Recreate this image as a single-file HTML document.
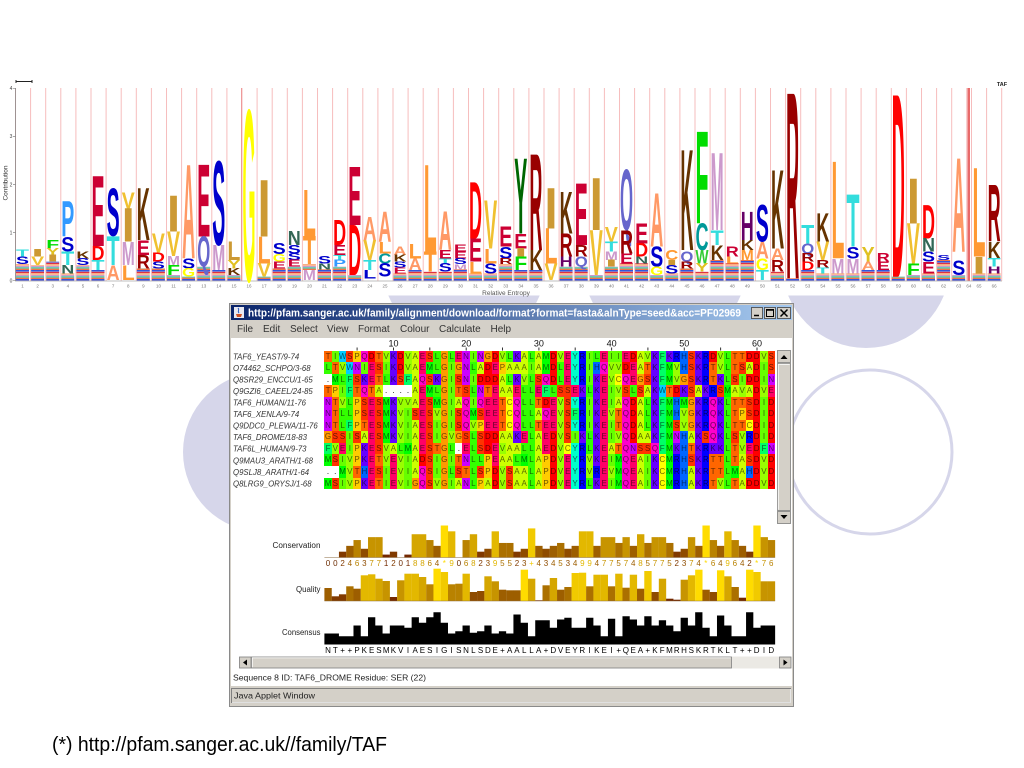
<!DOCTYPE html>
<html><head><meta charset="utf-8">
<style>
html,body{margin:0;padding:0;background:#fff;}
body{width:1024px;height:768px;position:relative;overflow:hidden;font-family:"Liberation Sans",sans-serif;}
svg.main{position:absolute;left:0;top:0;}
.lg text{font-family:"Liberation Sans",sans-serif;font-weight:bold;font-size:10px;}
.cA{fill:#ff9966}.cL{fill:#ff9933}.cI{fill:#cc9933}.cV{fill:#f0c030}.cM{fill:#cc99cc}.cF{fill:#00dd00}.cW{fill:#33cc33}
.cY{fill:#006600}.cYg{fill:#e0c020}.cG{fill:#ffff00}.cC{fill:#009999}.cT{fill:#33dddd}.cS{fill:#0000cc}.cN{fill:#336655}
.cQ{fill:#6666cc}.cP{fill:#3399ff}.cD{fill:#ff0000}.cE{fill:#cc0033}.cR{fill:#990000}.cK{fill:#663300}.cH{fill:#660066}
.q0{fill:#6b2a00;color:#6b2a00}.q1{fill:#732800;color:#732800}.q2{fill:#813a00;color:#813a00}.q3{fill:#8f4c00;color:#8f4c00}.q4{fill:#9d5e00;color:#9d5e00}
.q5{fill:#ab7000;color:#ab7000}.q6{fill:#b98200;color:#b98200}.q7{fill:#c79400;color:#c79400}.q8{fill:#d5a600;color:#d5a600}
.q9{fill:#e3b800;color:#e3b800}.q10{fill:#f1ca00;color:#f1ca00}.q11{fill:#ffdc00;color:#ffdc00}
.aln{position:absolute;left:324.4px;top:350.5px;}
.aln div{display:flex;height:11.55px;}
.aln i{flex:0 0 7.27px;width:7.27px;height:11.55px;line-height:12px;text-align:center;font-size:8px;font-style:normal;color:rgba(0,0,0,.6);overflow:hidden;}
.aln .A{background:#ccff00}.aln .R{background:#0000ff}.aln .N{background:#cc00ff}.aln .D{background:#ff0000}.aln .C{background:#ffff00}
.aln .Q{background:#ff00cc}.aln .E{background:#ff0066}.aln .G{background:#ff9900}.aln .H{background:#0066ff}.aln .I{background:#66ff00}
.aln .L{background:#33ff00}.aln .K{background:#6600ff}.aln .M{background:#00ff00}.aln .F{background:#00ff66}.aln .P{background:#ffcc00}
.aln .S{background:#ff3300}.aln .T{background:#ff6600}.aln .W{background:#00ccff}.aln .Y{background:#00ffcc}.aln .V{background:#99ff00}
.aln .g{background:#fff;color:#000}
.rowx{position:absolute;left:324.4px;display:flex;height:10px;}
.rowx i{flex:0 0 7.27px;width:7.27px;text-align:center;font-size:8px;line-height:10px;font-style:normal;}
</style></head>
<body>
<svg class="main" width="1024" height="768" viewBox="0 0 1024 768" xmlns="http://www.w3.org/2000/svg">
<defs>
<pattern id="sm" width="13" height="9" patternUnits="userSpaceOnUse">
<rect width="13" height="1.6" fill="#3355dd"/><rect y="1.8" width="13" height="1.4" fill="#dd3344"/><rect y="3.4" width="13" height="1.3" fill="#ffaa66"/><rect y="4.9" width="13" height="1.2" fill="#cc99cc"/><rect y="6.3" width="13" height="1.2" fill="#33bb99"/><rect y="7.7" width="13" height="1.2" fill="#ee6633"/>
</pattern>
<pattern id="vl" x="15" y="0" width="15.1" height="10" patternUnits="userSpaceOnUse"><rect width="1" height="10" fill="#f6bcbc"/></pattern>
<linearGradient id="tb" x1="0" x2="1" y1="0" y2="0"><stop offset="0" stop-color="#0a246a"/><stop offset="1" stop-color="#a6caf0"/></linearGradient>
</defs>

<!-- decorative circles -->
<circle cx="263" cy="452" r="80" fill="#d6d6ea"/>
<circle cx="464" cy="264" r="82" fill="#d6d6ea"/>
<circle cx="665" cy="264" r="82" fill="#d6d6ea"/>
<circle cx="866" cy="264" r="84" fill="#d6d6ea"/>
<circle cx="870" cy="452" r="82" fill="none" stroke="#d6d6ea" stroke-width="3"/>
<rect x="0" y="0" width="1024" height="295.5" fill="#fff"/>

<!-- logo -->
<rect x="14.5" y="88" width="953" height="193" fill="url(#vl)"/>
<rect x="241" y="88" width="1" height="193" fill="#ee9a9a"/>
<rect x="967.5" y="88" width="2.5" height="193" fill="#e86a6a"/>
<rect x="971" y="88" width="1" height="193" fill="#f6bcbc"/>
<rect x="986.1" y="88" width="1" height="193" fill="#f6bcbc"/>
<rect x="1001.2" y="88" width="1" height="193" fill="#f6bcbc"/>
<line x1="15.5" y1="88" x2="15.5" y2="281" stroke="#888" stroke-width="0.8"/>
<line x1="15" y1="281" x2="1002" y2="281" stroke="#aaa" stroke-width="0.8"/>
<path d="M13 88.3h3M13 136.5h3M13 184.6h3M13 232.6h3M13 280.7h3" stroke="#888" stroke-width="0.7"/>
<g font-family="Liberation Sans,sans-serif" font-size="5" fill="#444" text-anchor="middle">
<text x="11" y="90">4</text><text x="11" y="138.2">3</text><text x="11" y="186.3">2</text><text x="11" y="234.3">1</text><text x="11" y="282.4">0</text>
</g>
<text transform="translate(7.5 183) rotate(-90)" font-family="Liberation Sans,sans-serif" font-size="6.5" fill="#333" text-anchor="middle">Contribution</text>
<path d="M16 80v3M16 81.5h16M32 80v3" stroke="#222" stroke-width="1"/>
<text x="1002" y="86" font-family="Liberation Sans,sans-serif" font-size="5.5" font-weight="bold" fill="#222" text-anchor="middle">TAF</text>
<text x="506" y="295" font-family="Liberation Sans,sans-serif" font-size="6.5" fill="#555" text-anchor="middle">Relative Entropy</text>
<text font-family="Liberation Sans,sans-serif" font-size="4.5" fill="#777" text-anchor="middle" y="287.5"><tspan x="22.55">1</tspan><tspan x="37.65">2</tspan><tspan x="52.75">3</tspan><tspan x="67.85">4</tspan><tspan x="82.95">5</tspan><tspan x="98.05">6</tspan><tspan x="113.15">7</tspan><tspan x="128.25">8</tspan><tspan x="143.35">9</tspan><tspan x="158.45">10</tspan><tspan x="173.55">11</tspan><tspan x="188.65">12</tspan><tspan x="203.75">13</tspan><tspan x="218.85">14</tspan><tspan x="233.95">15</tspan><tspan x="249.05">16</tspan><tspan x="264.15">17</tspan><tspan x="279.25">18</tspan><tspan x="294.35">19</tspan><tspan x="309.45">20</tspan><tspan x="324.55">21</tspan><tspan x="339.65">22</tspan><tspan x="354.75">23</tspan><tspan x="369.85">24</tspan><tspan x="384.95">25</tspan><tspan x="400.05">26</tspan><tspan x="415.15">27</tspan><tspan x="430.25">28</tspan><tspan x="445.35">29</tspan><tspan x="460.45">30</tspan><tspan x="475.55">31</tspan><tspan x="490.65">32</tspan><tspan x="505.75">33</tspan><tspan x="520.85">34</tspan><tspan x="535.95">35</tspan><tspan x="551.05">36</tspan><tspan x="566.15">37</tspan><tspan x="581.25">38</tspan><tspan x="596.35">39</tspan><tspan x="611.45">40</tspan><tspan x="626.55">41</tspan><tspan x="641.65">42</tspan><tspan x="656.75">43</tspan><tspan x="671.85">44</tspan><tspan x="686.95">45</tspan><tspan x="702.05">46</tspan><tspan x="717.15">47</tspan><tspan x="732.25">48</tspan><tspan x="747.35">49</tspan><tspan x="762.45">50</tspan><tspan x="777.55">51</tspan><tspan x="792.65">52</tspan><tspan x="807.75">53</tspan><tspan x="822.85">54</tspan><tspan x="837.95">55</tspan><tspan x="853.05">56</tspan><tspan x="868.15">57</tspan><tspan x="883.25">58</tspan><tspan x="898.35">59</tspan><tspan x="913.45">60</tspan><tspan x="928.55">61</tspan><tspan x="943.65">62</tspan><tspan x="958.75">63</tspan><tspan x="968.9">64</tspan><tspan x="979.05">65</tspan><tspan x="994.15">66</tspan></text>

<g class="lg">
<!-- small stacks -->
<rect x="16" y="264" width="13" height="16.7" fill="url(#sm)"/>
<rect x="31.1" y="265" width="13" height="15.7" fill="url(#sm)"/>
<rect x="46.2" y="261.7" width="13" height="19" fill="url(#sm)"/>
<rect x="61.3" y="273.3" width="13" height="7.4" fill="url(#sm)"/>
<rect x="76.4" y="265" width="13" height="15.7" fill="url(#sm)"/>
<rect x="91.5" y="270" width="13" height="10.7" fill="url(#sm)"/>
<rect x="136.8" y="268.3" width="13" height="12.4" fill="url(#sm)"/>
<rect x="151.9" y="268.3" width="13" height="12.4" fill="url(#sm)"/>
<rect x="167" y="275" width="13" height="5.7" fill="url(#sm)"/>
<rect x="182.1" y="276.7" width="13" height="4" fill="url(#sm)"/>
<rect x="197.2" y="266.7" width="13" height="14" fill="url(#sm)"/>
<rect x="212.3" y="270" width="13" height="10.7" fill="url(#sm)"/>
<rect x="227.4" y="275" width="13" height="5.7" fill="url(#sm)"/>
<rect x="257.6" y="276.7" width="13" height="4" fill="url(#sm)"/>
<rect x="272.7" y="268.3" width="13" height="12.4" fill="url(#sm)"/>
<rect x="287.8" y="266.7" width="13" height="14" fill="url(#sm)"/>
<rect x="302.9" y="264" width="13" height="6" fill="url(#sm)"/>
<rect x="318" y="269.3" width="13" height="11.4" fill="url(#sm)"/>
<rect x="333.1" y="266.7" width="13" height="14" fill="url(#sm)"/>
<rect x="348.2" y="275" width="13" height="5.7" fill="url(#sm)"/>
<rect x="393.5" y="273.3" width="13" height="7.4" fill="url(#sm)"/>
<rect x="408.6" y="270" width="13" height="10.7" fill="url(#sm)"/>
<rect x="423.7" y="271.7" width="13" height="9" fill="url(#sm)"/>
<rect x="438.8" y="271.7" width="13" height="9" fill="url(#sm)"/>
<rect x="453.9" y="269.3" width="13" height="11.4" fill="url(#sm)"/>
<rect x="469" y="273.3" width="13" height="7.4" fill="url(#sm)"/>
<rect x="484.1" y="273.3" width="13" height="7.4" fill="url(#sm)"/>
<rect x="499.2" y="264" width="13" height="16.7" fill="url(#sm)"/>
<rect x="514.3" y="270" width="13" height="10.7" fill="url(#sm)"/>
<rect x="529.4" y="270" width="13" height="10.7" fill="url(#sm)"/>
<rect x="559.6" y="266.7" width="13" height="14" fill="url(#sm)"/>
<rect x="574.7" y="266.7" width="13" height="14" fill="url(#sm)"/>
<rect x="589.8" y="275" width="13" height="5.7" fill="url(#sm)"/>
<rect x="604.9" y="266.7" width="13" height="14" fill="url(#sm)"/>
<rect x="620" y="263.3" width="13" height="17.4" fill="url(#sm)"/>
<rect x="635.1" y="263.3" width="13" height="17.4" fill="url(#sm)"/>
<rect x="650.2" y="275" width="13" height="5.7" fill="url(#sm)"/>
<rect x="665.3" y="273.3" width="13" height="7.4" fill="url(#sm)"/>
<rect x="680.4" y="268.3" width="13" height="12.4" fill="url(#sm)"/>
<rect x="695.5" y="271.7" width="13" height="9" fill="url(#sm)"/>
<rect x="710.6" y="260" width="13" height="20.7" fill="url(#sm)"/>
<rect x="725.7" y="263.3" width="13" height="17.4" fill="url(#sm)"/>
<rect x="740.8" y="260" width="13" height="20.7" fill="url(#sm)"/>
<rect x="771" y="271.7" width="13" height="9" fill="url(#sm)"/>
<rect x="786.1" y="278.3" width="13" height="2.4" fill="url(#sm)"/>
<rect x="801.2" y="270" width="13" height="10.7" fill="url(#sm)"/>
<rect x="816.3" y="273.3" width="13" height="7.4" fill="url(#sm)"/>
<rect x="831.4" y="273.3" width="13" height="7.4" fill="url(#sm)"/>
<rect x="846.5" y="273.3" width="13" height="7.4" fill="url(#sm)"/>
<rect x="861.6" y="270" width="13" height="10.7" fill="url(#sm)"/>
<rect x="876.7" y="270" width="13" height="10.7" fill="url(#sm)"/>
<rect x="891.8" y="276.7" width="13" height="4" fill="url(#sm)"/>
<rect x="906.9" y="275" width="13" height="5.7" fill="url(#sm)"/>
<rect x="922" y="273.3" width="13" height="7.4" fill="url(#sm)"/>
<rect x="937.1" y="260" width="13" height="20.7" fill="url(#sm)"/>
<rect x="952.2" y="275" width="13" height="5.7" fill="url(#sm)"/>
<rect x="972.5" y="273.3" width="13" height="7.4" fill="url(#sm)"/>
<rect x="987.6" y="273.3" width="13" height="7.4" fill="url(#sm)"/>

<!-- letters -->
<text class="cT" transform="translate(16 256.7)scale(1 .97)" textLength="13" lengthAdjust="spacingAndGlyphs">T</text>
<text class="cS" transform="translate(16 264)scale(1 1.06)" textLength="13" lengthAdjust="spacingAndGlyphs">S</text>
<text class="cI" transform="translate(31.1 256.7)scale(1 1.06)" textLength="13" lengthAdjust="spacingAndGlyphs">I</text>
<text class="cV" transform="translate(31.1 265)scale(1 1.21)" textLength="13" lengthAdjust="spacingAndGlyphs">V</text>
<text class="cF" transform="translate(46.2 248.3)scale(1 1.21)" textLength="13" lengthAdjust="spacingAndGlyphs">F</text>
<text class="cYg" transform="translate(46.2 255)scale(1 .97)" textLength="13" lengthAdjust="spacingAndGlyphs">Y</text>
<text class="cI" transform="translate(46.2 261.7)scale(1 .97)" textLength="13" lengthAdjust="spacingAndGlyphs">I</text>
<text class="cP" transform="translate(61.3 236.7)scale(1 5.07)" textLength="13" lengthAdjust="spacingAndGlyphs">P</text>
<text class="cS" transform="translate(61.3 251.7)scale(1 2.17)" textLength="13" lengthAdjust="spacingAndGlyphs">S</text>
<text class="cT" transform="translate(61.3 265)scale(1 1.93)" textLength="13" lengthAdjust="spacingAndGlyphs">T</text>
<text class="cN" transform="translate(61.3 273.3)scale(1 1.21)" textLength="13" lengthAdjust="spacingAndGlyphs">N</text>
<text class="cK" transform="translate(76.4 258.3)scale(1 .97)" textLength="13" lengthAdjust="spacingAndGlyphs">K</text>
<text class="cS" transform="translate(76.4 265)scale(1 .97)" textLength="13" lengthAdjust="spacingAndGlyphs">S</text>
<text class="cE" transform="translate(91.5 246)scale(1 10.14)" textLength="13" lengthAdjust="spacingAndGlyphs">E</text>
<text class="cD" transform="translate(91.5 260)scale(1 2.03)" textLength="13" lengthAdjust="spacingAndGlyphs">D</text>
<text class="cT" transform="translate(91.5 270)scale(1 1.45)" textLength="13" lengthAdjust="spacingAndGlyphs">T</text>
<text class="cS" transform="translate(106.6 236)scale(1 6.91)" textLength="13" lengthAdjust="spacingAndGlyphs">S</text>
<text class="cT" transform="translate(106.6 265)scale(1 4.2)" textLength="13" lengthAdjust="spacingAndGlyphs">T</text>
<text class="cA" transform="translate(106.6 280)scale(1 2.17)" textLength="13" lengthAdjust="spacingAndGlyphs">A</text>
<text class="cV" transform="translate(121.7 208.3)scale(1 2.27)" textLength="13" lengthAdjust="spacingAndGlyphs">V</text>
<text class="cI" transform="translate(121.7 241.7)scale(1 4.83)" textLength="13" lengthAdjust="spacingAndGlyphs">I</text>
<text class="cM" transform="translate(121.7 265)scale(1 3.38)" textLength="13" lengthAdjust="spacingAndGlyphs">M</text>
<text class="cL" transform="translate(121.7 280)scale(1 2.17)" textLength="13" lengthAdjust="spacingAndGlyphs">L</text>
<text class="cK" transform="translate(136.8 240)scale(1 7.49)" textLength="13" lengthAdjust="spacingAndGlyphs">K</text>
<text class="cE" transform="translate(136.8 255)scale(1 2.17)" textLength="13" lengthAdjust="spacingAndGlyphs">E</text>
<text class="cR" transform="translate(136.8 268.3)scale(1 1.93)" textLength="13" lengthAdjust="spacingAndGlyphs">R</text>
<text class="cV" transform="translate(151.9 252.7)scale(1 2.8)" textLength="13" lengthAdjust="spacingAndGlyphs">V</text>
<text class="cD" transform="translate(151.9 261.7)scale(1 1.3)" textLength="13" lengthAdjust="spacingAndGlyphs">D</text>
<text class="cS" transform="translate(151.9 268.3)scale(1 .97)" textLength="13" lengthAdjust="spacingAndGlyphs">S</text>
<text class="cI" transform="translate(167 231.7)scale(1 5.17)" textLength="13" lengthAdjust="spacingAndGlyphs">I</text>
<text class="cV" transform="translate(167 256)scale(1 3.53)" textLength="13" lengthAdjust="spacingAndGlyphs">V</text>
<text class="cM" transform="translate(167 265)scale(1 1.3)" textLength="13" lengthAdjust="spacingAndGlyphs">M</text>
<text class="cF" transform="translate(167 275)scale(1 1.45)" textLength="13" lengthAdjust="spacingAndGlyphs">F</text>
<text class="cA" transform="translate(182.1 258.3)scale(1 13.53)" textLength="13" lengthAdjust="spacingAndGlyphs">A</text>
<text class="cS" transform="translate(182.1 268.3)scale(1 1.45)" textLength="13" lengthAdjust="spacingAndGlyphs">S</text>
<text class="cG" transform="translate(182.1 276.7)scale(1 1.21)" textLength="13" lengthAdjust="spacingAndGlyphs">G</text>
<text class="cE" transform="translate(197.2 236.7)scale(1 10.39)" textLength="13" lengthAdjust="spacingAndGlyphs">E</text>
<text class="cQ" transform="translate(197.2 266.7)scale(1 4.35)" textLength="13" lengthAdjust="spacingAndGlyphs">Q</text>
<text class="cS" transform="translate(212.3 245)scale(1 12.08)" textLength="13" lengthAdjust="spacingAndGlyphs">S</text>
<text class="cM" transform="translate(212.3 270)scale(1 3.62)" textLength="13" lengthAdjust="spacingAndGlyphs">M</text>
<text class="cI" transform="translate(227.4 260)scale(1 2.66)" textLength="13" lengthAdjust="spacingAndGlyphs">L</text>
<text class="cYg" transform="translate(227.4 268.3)scale(1 1.21)" textLength="13" lengthAdjust="spacingAndGlyphs">Y</text>
<text class="cK" transform="translate(227.4 275)scale(1 .97)" textLength="13" lengthAdjust="spacingAndGlyphs">K</text>
<text class="cG" transform="translate(242.5 280.7)scale(1 24.6)" textLength="13" lengthAdjust="spacingAndGlyphs">G</text>
<text class="cI" transform="translate(257.6 236.7)scale(1 8.12)" textLength="13" lengthAdjust="spacingAndGlyphs">I</text>
<text class="cL" transform="translate(257.6 263.3)scale(1 3.86)" textLength="13" lengthAdjust="spacingAndGlyphs">L</text>
<text class="cV" transform="translate(257.6 276.7)scale(1 1.93)" textLength="13" lengthAdjust="spacingAndGlyphs">V</text>
<text class="cS" transform="translate(272.7 254)scale(1 1.55)" textLength="13" lengthAdjust="spacingAndGlyphs">S</text>
<text class="cG" transform="translate(272.7 261.7)scale(1 1.11)" textLength="13" lengthAdjust="spacingAndGlyphs">G</text>
<text class="cE" transform="translate(272.7 268.3)scale(1 .97)" textLength="13" lengthAdjust="spacingAndGlyphs">E</text>
<text class="cN" transform="translate(287.8 245)scale(1 2.03)" textLength="13" lengthAdjust="spacingAndGlyphs">N</text>
<text class="cS" transform="translate(287.8 253.3)scale(1 1.21)" textLength="13" lengthAdjust="spacingAndGlyphs">S</text>
<text class="cS" transform="translate(287.8 260)scale(1 .97)" textLength="13" lengthAdjust="spacingAndGlyphs">S</text>
<text class="cE" transform="translate(287.8 266.7)scale(1 .97)" textLength="13" lengthAdjust="spacingAndGlyphs">E</text>
<text class="cL" transform="translate(302.9 236)scale(1 6.67)" textLength="13" lengthAdjust="spacingAndGlyphs">L</text>
<text class="cL" transform="translate(302.9 264)scale(1 4.06)" textLength="13" lengthAdjust="spacingAndGlyphs">T</text>
<text class="cM" transform="translate(302.9 280)scale(1 1.45)" textLength="13" lengthAdjust="spacingAndGlyphs">M</text>
<text class="cS" transform="translate(318 263.3)scale(1 1.06)" textLength="13" lengthAdjust="spacingAndGlyphs">S</text>
<text class="cN" transform="translate(318 269.3)scale(1 .87)" textLength="13" lengthAdjust="spacingAndGlyphs">N</text>
<text class="cD" transform="translate(333.1 245)scale(1 3.62)" textLength="13" lengthAdjust="spacingAndGlyphs">D</text>
<text class="cE" transform="translate(333.1 255)scale(1 1.45)" textLength="13" lengthAdjust="spacingAndGlyphs">E</text>
<text class="cT" transform="translate(333.1 260)scale(1 .72)" textLength="13" lengthAdjust="spacingAndGlyphs">T</text>
<text class="cP" transform="translate(333.1 266.7)scale(1 .97)" textLength="13" lengthAdjust="spacingAndGlyphs">P</text>
<text class="cE" transform="translate(348.2 225)scale(1 8.45)" textLength="13" lengthAdjust="spacingAndGlyphs">E</text>
<text class="cD" transform="translate(348.2 275)scale(1 7.25)" textLength="13" lengthAdjust="spacingAndGlyphs">D</text>
<text class="cA" transform="translate(363.3 240)scale(1 3.38)" textLength="13" lengthAdjust="spacingAndGlyphs">A</text>
<text class="cV" transform="translate(363.3 260)scale(1 2.9)" textLength="13" lengthAdjust="spacingAndGlyphs">V</text>
<text class="cT" transform="translate(363.3 270)scale(1 1.45)" textLength="13" lengthAdjust="spacingAndGlyphs">T</text>
<text class="cS" transform="translate(363.3 278.3)scale(1 1.21)" textLength="13" lengthAdjust="spacingAndGlyphs">L</text>
<text class="cA" transform="translate(378.4 241.7)scale(1 4.35)" textLength="13" lengthAdjust="spacingAndGlyphs">A</text>
<text class="cL" transform="translate(378.4 253.3)scale(1 1.69)" textLength="13" lengthAdjust="spacingAndGlyphs">L</text>
<text class="cC" transform="translate(378.4 263.3)scale(1 1.45)" textLength="13" lengthAdjust="spacingAndGlyphs">C</text>
<text class="cS" transform="translate(378.4 276.7)scale(1 1.93)" textLength="13" lengthAdjust="spacingAndGlyphs">S</text>
<text class="cA" transform="translate(393.5 255)scale(1 1.21)" textLength="13" lengthAdjust="spacingAndGlyphs">A</text>
<text class="cK" transform="translate(393.5 261.7)scale(1 .97)" textLength="13" lengthAdjust="spacingAndGlyphs">K</text>
<text class="cS" transform="translate(393.5 267.3)scale(1 .82)" textLength="13" lengthAdjust="spacingAndGlyphs">S</text>
<text class="cE" transform="translate(393.5 273.3)scale(1 .87)" textLength="13" lengthAdjust="spacingAndGlyphs">E</text>
<text class="cL" transform="translate(408.6 258.3)scale(1 2.17)" textLength="13" lengthAdjust="spacingAndGlyphs">L</text>
<text class="cA" transform="translate(408.6 270)scale(1 1.69)" textLength="13" lengthAdjust="spacingAndGlyphs">A</text>
<text class="cL" transform="translate(423.7 251.7)scale(1 12.56)" textLength="13" lengthAdjust="spacingAndGlyphs">L</text>
<text class="cL" transform="translate(423.7 271.7)scale(1 2.9)" textLength="13" lengthAdjust="spacingAndGlyphs">T</text>
<text class="cA" transform="translate(438.8 250)scale(1 5.56)" textLength="13" lengthAdjust="spacingAndGlyphs">A</text>
<text class="cE" transform="translate(438.8 258.3)scale(1 1.21)" textLength="13" lengthAdjust="spacingAndGlyphs">E</text>
<text class="cT" transform="translate(438.8 263.3)scale(1 .72)" textLength="13" lengthAdjust="spacingAndGlyphs">T</text>
<text class="cS" transform="translate(438.8 271.7)scale(1 1.21)" textLength="13" lengthAdjust="spacingAndGlyphs">S</text>
<text class="cE" transform="translate(453.9 251.7)scale(1 .97)" textLength="13" lengthAdjust="spacingAndGlyphs">E</text>
<text class="cE" transform="translate(453.9 258.3)scale(1 .97)" textLength="13" lengthAdjust="spacingAndGlyphs">E</text>
<text class="cS" transform="translate(453.9 264)scale(1 .82)" textLength="13" lengthAdjust="spacingAndGlyphs">S</text>
<text class="cM" transform="translate(453.9 269.3)scale(1 .77)" textLength="13" lengthAdjust="spacingAndGlyphs">M</text>
<text class="cD" transform="translate(469 238.3)scale(1 8.21)" textLength="13" lengthAdjust="spacingAndGlyphs">D</text>
<text class="cE" transform="translate(469 261.7)scale(1 3.38)" textLength="13" lengthAdjust="spacingAndGlyphs">E</text>
<text class="cL" transform="translate(469 273.3)scale(1 1.69)" textLength="13" lengthAdjust="spacingAndGlyphs">L</text>
<text class="cV" transform="translate(484.1 248.3)scale(1 7)" textLength="13" lengthAdjust="spacingAndGlyphs">V</text>
<text class="cL" transform="translate(484.1 263.3)scale(1 2.17)" textLength="13" lengthAdjust="spacingAndGlyphs">L</text>
<text class="cS" transform="translate(484.1 273.3)scale(1 1.45)" textLength="13" lengthAdjust="spacingAndGlyphs">S</text>
<text class="cE" transform="translate(499.2 246.7)scale(1 2.9)" textLength="13" lengthAdjust="spacingAndGlyphs">E</text>
<text class="cS" transform="translate(499.2 258.3)scale(1 1.69)" textLength="13" lengthAdjust="spacingAndGlyphs">S</text>
<text class="cR" transform="translate(499.2 264)scale(1 .82)" textLength="13" lengthAdjust="spacingAndGlyphs">R</text>
<text class="cY" transform="translate(514.3 233.3)scale(1 10.87)" textLength="13" lengthAdjust="spacingAndGlyphs">Y</text>
<text class="cE" transform="translate(514.3 248.3)scale(1 2.17)" textLength="13" lengthAdjust="spacingAndGlyphs">E</text>
<text class="cI" transform="translate(514.3 256.7)scale(1 1.21)" textLength="13" lengthAdjust="spacingAndGlyphs">I</text>
<text class="cF" transform="translate(514.3 270)scale(1 1.93)" textLength="13" lengthAdjust="spacingAndGlyphs">F</text>
<text class="cR" transform="translate(529.4 250)scale(1 13.87)" textLength="13" lengthAdjust="spacingAndGlyphs">R</text>
<text class="cK" transform="translate(529.4 270)scale(1 2.9)" textLength="13" lengthAdjust="spacingAndGlyphs">K</text>
<text class="cI" transform="translate(544.5 228.3)scale(1 5.8)" textLength="13" lengthAdjust="spacingAndGlyphs">I</text>
<text class="cL" transform="translate(544.5 263.3)scale(1 5.07)" textLength="13" lengthAdjust="spacingAndGlyphs">L</text>
<text class="cV" transform="translate(544.5 280)scale(1 2.42)" textLength="13" lengthAdjust="spacingAndGlyphs">V</text>
<text class="cK" transform="translate(559.6 233.3)scale(1 6.04)" textLength="13" lengthAdjust="spacingAndGlyphs">K</text>
<text class="cR" transform="translate(559.6 256.7)scale(1 3.38)" textLength="13" lengthAdjust="spacingAndGlyphs">R</text>
<text class="cH" transform="translate(559.6 266.7)scale(1 1.45)" textLength="13" lengthAdjust="spacingAndGlyphs">H</text>
<text class="cE" transform="translate(574.7 245)scale(1 8.94)" textLength="13" lengthAdjust="spacingAndGlyphs">E</text>
<text class="cR" transform="translate(574.7 256.7)scale(1 1.69)" textLength="13" lengthAdjust="spacingAndGlyphs">R</text>
<text class="cQ" transform="translate(574.7 266.7)scale(1 1.45)" textLength="13" lengthAdjust="spacingAndGlyphs">Q</text>
<text class="cI" transform="translate(589.8 230)scale(1 7.49)" textLength="13" lengthAdjust="spacingAndGlyphs">I</text>
<text class="cV" transform="translate(589.8 275)scale(1 6.52)" textLength="13" lengthAdjust="spacingAndGlyphs">V</text>
<text class="cV" transform="translate(604.9 241.7)scale(1 2.17)" textLength="13" lengthAdjust="spacingAndGlyphs">V</text>
<text class="cT" transform="translate(604.9 251.7)scale(1 1.45)" textLength="13" lengthAdjust="spacingAndGlyphs">T</text>
<text class="cM" transform="translate(604.9 260)scale(1 1.21)" textLength="13" lengthAdjust="spacingAndGlyphs">M</text>
<text class="cI" transform="translate(604.9 266.7)scale(1 .97)" textLength="13" lengthAdjust="spacingAndGlyphs">I</text>
<text class="cQ" transform="translate(620 230)scale(1 8.7)" textLength="13" lengthAdjust="spacingAndGlyphs">Q</text>
<text class="cR" transform="translate(620 253.3)scale(1 3.38)" textLength="13" lengthAdjust="spacingAndGlyphs">R</text>
<text class="cE" transform="translate(620 263.3)scale(1 1.45)" textLength="13" lengthAdjust="spacingAndGlyphs">E</text>
<text class="cE" transform="translate(635.1 243.3)scale(1 2.9)" textLength="13" lengthAdjust="spacingAndGlyphs">E</text>
<text class="cD" transform="translate(635.1 256.7)scale(1 1.93)" textLength="13" lengthAdjust="spacingAndGlyphs">D</text>
<text class="cN" transform="translate(635.1 263.3)scale(1 .97)" textLength="13" lengthAdjust="spacingAndGlyphs">N</text>
<text class="cA" transform="translate(650.2 246.7)scale(1 7.73)" textLength="13" lengthAdjust="spacingAndGlyphs">A</text>
<text class="cS" transform="translate(650.2 266.7)scale(1 2.9)" textLength="13" lengthAdjust="spacingAndGlyphs">S</text>
<text class="cG" transform="translate(650.2 275)scale(1 1.21)" textLength="13" lengthAdjust="spacingAndGlyphs">G</text>
<text class="cL" transform="translate(665.3 260)scale(1 1.45)" textLength="13" lengthAdjust="spacingAndGlyphs">C</text>
<text class="cI" transform="translate(665.3 265)scale(1 .72)" textLength="13" lengthAdjust="spacingAndGlyphs">I</text>
<text class="cS" transform="translate(665.3 273.3)scale(1 1.21)" textLength="13" lengthAdjust="spacingAndGlyphs">S</text>
<text class="cK" transform="translate(680.4 250)scale(1 14.49)" textLength="13" lengthAdjust="spacingAndGlyphs">K</text>
<text class="cQ" transform="translate(680.4 261.7)scale(1 1.45)" textLength="13" lengthAdjust="spacingAndGlyphs">Q</text>
<text class="cR" transform="translate(680.4 268.3)scale(1 .97)" textLength="13" lengthAdjust="spacingAndGlyphs">R</text>
<text class="cF" transform="translate(695.5 223.3)scale(1 13.29)" textLength="13" lengthAdjust="spacingAndGlyphs">F</text>
<text class="cC" transform="translate(695.5 250)scale(1 3.86)" textLength="13" lengthAdjust="spacingAndGlyphs">C</text>
<text class="cW" transform="translate(695.5 263.3)scale(1 1.93)" textLength="13" lengthAdjust="spacingAndGlyphs">W</text>
<text class="cYg" transform="translate(695.5 271.7)scale(1 1.21)" textLength="13" lengthAdjust="spacingAndGlyphs">Y</text>
<text class="cM" transform="translate(710.6 230)scale(1 11.11)" textLength="13" lengthAdjust="spacingAndGlyphs">M</text>
<text class="cT" transform="translate(710.6 245)scale(1 2.17)" textLength="13" lengthAdjust="spacingAndGlyphs">T</text>
<text class="cK" transform="translate(710.6 260)scale(1 2.17)" textLength="13" lengthAdjust="spacingAndGlyphs">K</text>
<text class="cE" transform="translate(725.7 256.7)scale(1 1.45)" textLength="13" lengthAdjust="spacingAndGlyphs">R</text>
<text class="cL" transform="translate(725.7 263.3)scale(1 .97)" textLength="13" lengthAdjust="spacingAndGlyphs">L</text>
<text class="cH" transform="translate(740.8 240)scale(1 4.11)" textLength="13" lengthAdjust="spacingAndGlyphs">H</text>
<text class="cK" transform="translate(740.8 250)scale(1 1.45)" textLength="13" lengthAdjust="spacingAndGlyphs">K</text>
<text class="cL" transform="translate(740.8 260)scale(1 1.45)" textLength="13" lengthAdjust="spacingAndGlyphs">M</text>
<text class="cS" transform="translate(755.9 241.7)scale(1 5.31)" textLength="13" lengthAdjust="spacingAndGlyphs">S</text>
<text class="cA" transform="translate(755.9 258.3)scale(1 2.42)" textLength="13" lengthAdjust="spacingAndGlyphs">A</text>
<text class="cG" transform="translate(755.9 270)scale(1 1.69)" textLength="13" lengthAdjust="spacingAndGlyphs">G</text>
<text class="cT" transform="translate(755.9 280)scale(1 1.45)" textLength="13" lengthAdjust="spacingAndGlyphs">T</text>
<text class="cK" transform="translate(771 248.3)scale(1 11.35)" textLength="13" lengthAdjust="spacingAndGlyphs">K</text>
<text class="cA" transform="translate(771 260)scale(1 1.69)" textLength="13" lengthAdjust="spacingAndGlyphs">A</text>
<text class="cR" transform="translate(771 271.7)scale(1 1.69)" textLength="13" lengthAdjust="spacingAndGlyphs">R</text>
<text class="cR" transform="translate(786.1 278.3)scale(1 26.81)" textLength="13" lengthAdjust="spacingAndGlyphs">R</text>
<text class="cT" transform="translate(801.2 243.3)scale(1 2.66)" textLength="13" lengthAdjust="spacingAndGlyphs">T</text>
<text class="cQ" transform="translate(801.2 253.3)scale(1 1.45)" textLength="13" lengthAdjust="spacingAndGlyphs">Q</text>
<text class="cR" transform="translate(801.2 261.7)scale(1 1.21)" textLength="13" lengthAdjust="spacingAndGlyphs">R</text>
<text class="cD" transform="translate(801.2 270)scale(1 1.21)" textLength="13" lengthAdjust="spacingAndGlyphs">D</text>
<text class="cK" transform="translate(816.3 241.7)scale(1 4.11)" textLength="13" lengthAdjust="spacingAndGlyphs">K</text>
<text class="cV" transform="translate(816.3 260)scale(1 2.66)" textLength="13" lengthAdjust="spacingAndGlyphs">V</text>
<text class="cR" transform="translate(816.3 267.3)scale(1 1.06)" textLength="13" lengthAdjust="spacingAndGlyphs">R</text>
<text class="cT" transform="translate(816.3 273.3)scale(1 .87)" textLength="13" lengthAdjust="spacingAndGlyphs">T</text>
<text class="cL" transform="translate(831.4 258.3)scale(1 14.01)" textLength="13" lengthAdjust="spacingAndGlyphs">L</text>
<text class="cM" transform="translate(831.4 273.3)scale(1 2.17)" textLength="13" lengthAdjust="spacingAndGlyphs">M</text>
<text class="cT" transform="translate(846.5 246.7)scale(1 7.49)" textLength="13" lengthAdjust="spacingAndGlyphs">T</text>
<text class="cS" transform="translate(846.5 258.3)scale(1 1.69)" textLength="13" lengthAdjust="spacingAndGlyphs">S</text>
<text class="cM" transform="translate(846.5 273.3)scale(1 2.17)" textLength="13" lengthAdjust="spacingAndGlyphs">M</text>
<text class="cYg" transform="translate(861.6 261.7)scale(1 2.17)" textLength="13" lengthAdjust="spacingAndGlyphs">Y</text>
<text class="cA" transform="translate(861.6 270)scale(1 1.21)" textLength="13" lengthAdjust="spacingAndGlyphs">A</text>
<text class="cE" transform="translate(876.7 261.7)scale(1 1.21)" textLength="13" lengthAdjust="spacingAndGlyphs">R</text>
<text class="cE" transform="translate(876.7 270)scale(1 1.21)" textLength="13" lengthAdjust="spacingAndGlyphs">E</text>
<text class="cD" transform="translate(891.8 276.7)scale(1 26.33)" textLength="13" lengthAdjust="spacingAndGlyphs">D</text>
<text class="cI" transform="translate(906.9 223.3)scale(1 6.52)" textLength="13" lengthAdjust="spacingAndGlyphs">I</text>
<text class="cV" transform="translate(906.9 263.3)scale(1 5.8)" textLength="13" lengthAdjust="spacingAndGlyphs">V</text>
<text class="cF" transform="translate(906.9 275)scale(1 1.69)" textLength="13" lengthAdjust="spacingAndGlyphs">F</text>
<text class="cD" transform="translate(922 238.3)scale(1 4.83)" textLength="13" lengthAdjust="spacingAndGlyphs">D</text>
<text class="cN" transform="translate(922 251.7)scale(1 1.93)" textLength="13" lengthAdjust="spacingAndGlyphs">N</text>
<text class="cS" transform="translate(922 261.7)scale(1 1.45)" textLength="13" lengthAdjust="spacingAndGlyphs">S</text>
<text class="cE" transform="translate(922 273.3)scale(1 1.69)" textLength="13" lengthAdjust="spacingAndGlyphs">E</text>
<text class="cS" transform="translate(937.1 260)scale(1 .72)" textLength="13" lengthAdjust="spacingAndGlyphs">S</text>
<text class="cA" transform="translate(952.2 251.7)scale(1 13.53)" textLength="13" lengthAdjust="spacingAndGlyphs">A</text>
<text class="cS" transform="translate(952.2 275)scale(1 2.17)" textLength="13" lengthAdjust="spacingAndGlyphs">S</text>
<text class="cL" transform="translate(972.5 256.7)scale(1 12.8)" textLength="13" lengthAdjust="spacingAndGlyphs">L</text>
<text class="cI" transform="translate(972.5 273.3)scale(1 2.42)" textLength="13" lengthAdjust="spacingAndGlyphs">I</text>
<text class="cR" transform="translate(987.6 241.7)scale(1 8.21)" textLength="13" lengthAdjust="spacingAndGlyphs">R</text>
<text class="cK" transform="translate(987.6 258.3)scale(1 2.42)" textLength="13" lengthAdjust="spacingAndGlyphs">K</text>
<text class="cT" transform="translate(987.6 266.7)scale(1 1.21)" textLength="13" lengthAdjust="spacingAndGlyphs">T</text>
<text class="cH" transform="translate(987.6 273.3)scale(1 .97)" textLength="13" lengthAdjust="spacingAndGlyphs">H</text>
</g>

<!-- window -->
<rect x="229.5" y="303.5" width="564" height="403" fill="#d4d0c8" stroke="#8a8a8a"/>
<rect x="231" y="305" width="561" height="15" fill="url(#tb)"/>
<rect x="234" y="307" width="10" height="11" fill="#e8e8f0"/>
<path d="M236 314h6l-1 3h-4z" fill="#d05020"/><path d="M238 308c2 2-1 3 1 5" stroke="#3060c0" fill="none" stroke-width="1"/>
<text x="248" y="316.5" font-family="Liberation Sans,sans-serif" font-weight="bold" font-size="11" fill="#fff" textLength="493" lengthAdjust="spacingAndGlyphs">http://pfam.sanger.ac.uk/family/alignment/download/format?format=fasta&amp;alnType=seed&amp;acc=PF02969</text>
<g stroke="#404040" stroke-width="0.8">
<rect x="751.5" y="307.5" width="11" height="11" fill="#d4d0c8"/>
<rect x="764.5" y="307.5" width="11" height="11" fill="#d4d0c8"/>
<rect x="777.5" y="307.5" width="13" height="11" fill="#d4d0c8"/>
</g>
<path d="M754 315.5h5" stroke="#000" stroke-width="1.5"/>
<rect x="766.5" y="309.5" width="7" height="7" fill="none" stroke="#000" stroke-width="1"/><path d="M766.5 310h7" stroke="#000" stroke-width="1.5"/>
<path d="M780.5 309.5l7 7M787.5 309.5l-7 7" stroke="#000" stroke-width="1.5"/>
<g font-family="Liberation Sans,sans-serif" font-size="10" fill="#333">
<text x="237" y="332">File</text><text x="263" y="332">Edit</text><text x="290" y="332">Select</text><text x="327" y="332">View</text><text x="358" y="332">Format</text><text x="400" y="332">Colour</text><text x="439" y="332">Calculate</text><text x="490.5" y="332">Help</text>
</g>
<rect x="231" y="338" width="561" height="348" fill="#fff"/>
<g font-family="Liberation Sans,sans-serif" font-size="9" fill="#111" text-anchor="middle">
<text x="393.5" y="346.5">10</text><text x="466.2" y="346.5">20</text><text x="538.9" y="346.5">30</text><text x="611.6" y="346.5">40</text><text x="684.3" y="346.5">50</text><text x="757" y="346.5">60</text>
</g>
<path d="M357.1 347.5v3M393.5 347.5v3M429.8 347.5v3M466.2 347.5v3M502.5 347.5v3M538.9 347.5v3M575.2 347.5v3M611.6 347.5v3M647.9 347.5v3M684.3 347.5v3M720.6 347.5v3M757 347.5v3" stroke="#333" stroke-width="1"/>
<g font-family="Liberation Sans,sans-serif" font-size="7.8" font-style="italic" fill="#333">
<text x="233" y="359.3">TAF6_YEAST/9-74</text>
<text x="233" y="370.9">O74462_SCHPO/3-68</text>
<text x="233" y="382.4">Q8SR29_ENCCU/1-65</text>
<text x="233" y="394">Q9GZI6_CAEEL/24-85</text>
<text x="233" y="405.5">TAF6_HUMAN/11-76</text>
<text x="233" y="417.1">TAF6_XENLA/9-74</text>
<text x="233" y="428.6">Q9DDC0_PLEWA/11-76</text>
<text x="233" y="440.2">TAF6_DROME/18-83</text>
<text x="233" y="451.7">TAF6L_HUMAN/9-73</text>
<text x="233" y="463.3">Q9MAU3_ARATH/1-68</text>
<text x="233" y="474.8">Q9SLJ8_ARATH/1-64</text>
<text x="233" y="486.4">Q8LRG9_ORYSJ/1-68</text>
</g>
<!-- vertical scrollbar -->
<rect x="777" y="350" width="14" height="174" fill="#e6e4de"/>
<rect x="777.5" y="350.5" width="13" height="12" fill="#d4d0c8" stroke="#808080" stroke-width="0.8"/>
<path d="M780.5 359h7l-3.5-4z" fill="#000"/>
<rect x="777.5" y="363.5" width="13" height="147" fill="#d4d0c8" stroke="#808080" stroke-width="0.8"/>
<path d="M778.3 364.3v145.4M778.3 364.3h11.4" stroke="#fff" stroke-width="0.8"/>
<rect x="777.5" y="511.5" width="13" height="12" fill="#d4d0c8" stroke="#808080" stroke-width="0.8"/>
<path d="M780.5 515h7l-3.5 4z" fill="#000"/>
<!-- annotation labels -->
<g font-family="Liberation Sans,sans-serif" font-size="8" fill="#222" text-anchor="end">
<text x="320.5" y="548" textLength="48" lengthAdjust="spacingAndGlyphs">Conservation</text>
<text x="320.5" y="592" textLength="24.5" lengthAdjust="spacingAndGlyphs">Quality</text>
<text x="320.5" y="635" textLength="38.5" lengthAdjust="spacingAndGlyphs">Consensus</text>
</g>
<!-- conservation bars -->
<g>
<rect class="q2" x="338.94" y="551.68" width="7.35" height="5.82"/>
<rect class="q4" x="346.21" y="545.86" width="7.35" height="11.64"/>
<rect class="q6" x="353.48" y="540.05" width="7.35" height="17.45"/>
<rect class="q3" x="360.75" y="548.77" width="7.35" height="8.73"/>
<rect class="q7" x="368.02" y="537.14" width="7.35" height="20.36"/>
<rect class="q7" x="375.29" y="537.14" width="7.35" height="20.36"/>
<rect class="q1" x="382.56" y="554.59" width="7.35" height="2.91"/>
<rect class="q2" x="389.83" y="551.68" width="7.35" height="5.82"/>
<rect class="q1" x="404.37" y="554.59" width="7.35" height="2.91"/>
<rect class="q8" x="411.64" y="534.23" width="7.35" height="23.27"/>
<rect class="q8" x="418.91" y="534.23" width="7.35" height="23.27"/>
<rect class="q6" x="426.18" y="540.05" width="7.35" height="17.45"/>
<rect class="q4" x="433.45" y="545.86" width="7.35" height="11.64"/>
<rect class="q11" x="440.72" y="525.5" width="7.35" height="32"/>
<rect class="q9" x="447.99" y="531.32" width="7.35" height="26.18"/>
<rect class="q6" x="462.53" y="540.05" width="7.35" height="17.45"/>
<rect class="q8" x="469.8" y="534.23" width="7.35" height="23.27"/>
<rect class="q2" x="477.07" y="551.68" width="7.35" height="5.82"/>
<rect class="q3" x="484.34" y="548.77" width="7.35" height="8.73"/>
<rect class="q9" x="491.61" y="531.32" width="7.35" height="26.18"/>
<rect class="q5" x="498.88" y="542.95" width="7.35" height="14.55"/>
<rect class="q5" x="506.15" y="542.95" width="7.35" height="14.55"/>
<rect class="q2" x="513.42" y="551.68" width="7.35" height="5.82"/>
<rect class="q3" x="520.69" y="548.77" width="7.35" height="8.73"/>
<rect class="q10" x="527.96" y="528.41" width="7.35" height="29.09"/>
<rect class="q4" x="535.23" y="545.86" width="7.35" height="11.64"/>
<rect class="q3" x="542.5" y="548.77" width="7.35" height="8.73"/>
<rect class="q4" x="549.77" y="545.86" width="7.35" height="11.64"/>
<rect class="q5" x="557.04" y="542.95" width="7.35" height="14.55"/>
<rect class="q3" x="564.31" y="548.77" width="7.35" height="8.73"/>
<rect class="q4" x="571.58" y="545.86" width="7.35" height="11.64"/>
<rect class="q9" x="578.85" y="531.32" width="7.35" height="26.18"/>
<rect class="q9" x="586.12" y="531.32" width="7.35" height="26.18"/>
<rect class="q4" x="593.39" y="545.86" width="7.35" height="11.64"/>
<rect class="q7" x="600.66" y="537.14" width="7.35" height="20.36"/>
<rect class="q7" x="607.93" y="537.14" width="7.35" height="20.36"/>
<rect class="q5" x="615.2" y="542.95" width="7.35" height="14.55"/>
<rect class="q7" x="622.47" y="537.14" width="7.35" height="20.36"/>
<rect class="q4" x="629.74" y="545.86" width="7.35" height="11.64"/>
<rect class="q8" x="637.01" y="534.23" width="7.35" height="23.27"/>
<rect class="q5" x="644.28" y="542.95" width="7.35" height="14.55"/>
<rect class="q7" x="651.55" y="537.14" width="7.35" height="20.36"/>
<rect class="q7" x="658.82" y="537.14" width="7.35" height="20.36"/>
<rect class="q5" x="666.09" y="542.95" width="7.35" height="14.55"/>
<rect class="q2" x="673.36" y="551.68" width="7.35" height="5.82"/>
<rect class="q3" x="680.63" y="548.77" width="7.35" height="8.73"/>
<rect class="q7" x="687.9" y="537.14" width="7.35" height="20.36"/>
<rect class="q4" x="695.17" y="545.86" width="7.35" height="11.64"/>
<rect class="q11" x="702.44" y="525.5" width="7.35" height="32"/>
<rect class="q6" x="709.71" y="540.05" width="7.35" height="17.45"/>
<rect class="q4" x="716.98" y="545.86" width="7.35" height="11.64"/>
<rect class="q9" x="724.25" y="531.32" width="7.35" height="26.18"/>
<rect class="q6" x="731.52" y="540.05" width="7.35" height="17.45"/>
<rect class="q4" x="738.79" y="545.86" width="7.35" height="11.64"/>
<rect class="q2" x="746.06" y="551.68" width="7.35" height="5.82"/>
<rect class="q11" x="753.33" y="525.5" width="7.35" height="32"/>
<rect class="q7" x="760.6" y="537.14" width="7.35" height="20.36"/>
<rect class="q6" x="767.87" y="540.05" width="7.27" height="17.45"/>
</g>
<!-- quality bars -->
<g>
<rect class="q4" x="324.4" y="588" width="7.35" height="13"/>
<rect class="q2" x="331.67" y="596.3" width="7.35" height="4.7"/>
<rect class="q2" x="338.94" y="594.3" width="7.35" height="6.7"/>
<rect class="q5" x="346.21" y="586.3" width="7.35" height="14.7"/>
<rect class="q4" x="353.48" y="588.7" width="7.35" height="12.3"/>
<rect class="q9" x="360.75" y="575.3" width="7.35" height="25.7"/>
<rect class="q9" x="368.02" y="574.3" width="7.35" height="26.7"/>
<rect class="q8" x="375.29" y="578.7" width="7.35" height="22.3"/>
<rect class="q7" x="382.56" y="581" width="7.35" height="20"/>
<rect class="q1" x="389.83" y="597" width="7.35" height="4"/>
<rect class="q7" x="397.1" y="580.3" width="7.35" height="20.7"/>
<rect class="q9" x="404.37" y="573.7" width="7.35" height="27.3"/>
<rect class="q9" x="411.64" y="573.7" width="7.35" height="27.3"/>
<rect class="q8" x="418.91" y="577" width="7.35" height="24"/>
<rect class="q6" x="426.18" y="584.3" width="7.35" height="16.7"/>
<rect class="q11" x="433.45" y="568.7" width="7.35" height="32.3"/>
<rect class="q10" x="440.72" y="572" width="7.35" height="29"/>
<rect class="q6" x="447.99" y="584.3" width="7.35" height="16.7"/>
<rect class="q6" x="455.26" y="583.7" width="7.35" height="17.3"/>
<rect class="q9" x="462.53" y="573.7" width="7.35" height="27.3"/>
<rect class="q3" x="469.8" y="592" width="7.35" height="9"/>
<rect class="q3" x="477.07" y="591" width="7.35" height="10"/>
<rect class="q8" x="484.34" y="576.3" width="7.35" height="24.7"/>
<rect class="q7" x="491.61" y="581.3" width="7.35" height="19.7"/>
<rect class="q4" x="498.88" y="589.7" width="7.35" height="11.3"/>
<rect class="q4" x="506.15" y="590.3" width="7.35" height="10.7"/>
<rect class="q4" x="513.42" y="590.3" width="7.35" height="10.7"/>
<rect class="q11" x="520.69" y="569.7" width="7.35" height="31.3"/>
<rect class="q8" x="527.96" y="578.7" width="7.35" height="22.3"/>
<rect class="q1" x="535.23" y="600.3" width="7.35" height="0.7"/>
<rect class="q5" x="542.5" y="585.3" width="7.35" height="15.7"/>
<rect class="q8" x="549.77" y="578" width="7.35" height="23"/>
<rect class="q4" x="557.04" y="589.7" width="7.35" height="11.3"/>
<rect class="q5" x="564.31" y="587" width="7.35" height="14"/>
<rect class="q10" x="571.58" y="573" width="7.35" height="28"/>
<rect class="q10" x="578.85" y="572.7" width="7.35" height="28.3"/>
<rect class="q5" x="586.12" y="586.3" width="7.35" height="14.7"/>
<rect class="q9" x="593.39" y="574.7" width="7.35" height="26.3"/>
<rect class="q9" x="600.66" y="574.7" width="7.35" height="26.3"/>
<rect class="q5" x="607.93" y="586.3" width="7.35" height="14.7"/>
<rect class="q9" x="615.2" y="573.7" width="7.35" height="27.3"/>
<rect class="q5" x="622.47" y="587.7" width="7.35" height="13.3"/>
<rect class="q9" x="629.74" y="574.7" width="7.35" height="26.3"/>
<rect class="q4" x="637.01" y="588.7" width="7.35" height="12.3"/>
<rect class="q10" x="644.28" y="571" width="7.35" height="30"/>
<rect class="q3" x="651.55" y="592" width="7.35" height="9"/>
<rect class="q8" x="658.82" y="578.7" width="7.35" height="22.3"/>
<rect class="q1" x="666.09" y="598.7" width="7.35" height="2.3"/>
<rect class="q1" x="673.36" y="599.7" width="7.35" height="1.3"/>
<rect class="q7" x="680.63" y="579.7" width="7.35" height="21.3"/>
<rect class="q9" x="687.9" y="575.3" width="7.35" height="25.7"/>
<rect class="q11" x="695.17" y="569.7" width="7.35" height="31.3"/>
<rect class="q4" x="702.44" y="589.7" width="7.35" height="11.3"/>
<rect class="q3" x="709.71" y="592" width="7.35" height="9"/>
<rect class="q11" x="716.98" y="570.3" width="7.35" height="30.7"/>
<rect class="q8" x="724.25" y="576.3" width="7.35" height="24.7"/>
<rect class="q5" x="731.52" y="587" width="7.35" height="14"/>
<rect class="q1" x="738.79" y="597.7" width="7.35" height="3.3"/>
<rect class="q11" x="746.06" y="569.7" width="7.35" height="31.3"/>
<rect class="q10" x="753.33" y="572" width="7.35" height="29"/>
<rect class="q7" x="760.6" y="581.3" width="7.35" height="19.7"/>
<rect class="q7" x="767.87" y="581.3" width="7.27" height="19.7"/>
</g>
<path d="M324.4 557.5h450.7M324.4 601h450.7" stroke="#8a6a40" stroke-width="0.6"/>
<!-- consensus histogram -->
<path fill="#000" d="M324.4,644.5 V633.5 H338.94 V636.2 H353.48 V625.5 H360.75 V636.2 H368.02 V617.2 H375.29 V625.5 H382.56 V633.5 H389.83 V625.5 H404.37 V627.8 H411.64 V617.2 H418.91 V622.8 H426.18 V617.2 H433.45 V612.2 H440.72 V622.8 H447.99 V633.5 H455.26 V631.2 H462.53 V625.5 H469.8 V632.8 H477.07 V631.2 H484.34 V625.5 H491.61 V633.5 H498.88 V631.2 H506.15 V633.5 H513.42 V614.5 H520.69 V622.8 H527.96 V636.2 H535.23 V620.2 H549.77 V627.8 H557.04 V619.5 H564.31 V617.8 H571.58 V627.8 H586.12 V617.8 H593.39 V625.5 H600.66 V636.2 H607.93 V618.8 H615.2 V636.2 H622.47 V616.2 H629.74 V619.5 H637.01 V625.5 H644.28 V616.2 H651.55 V625.5 H658.82 V620.2 H666.09 V625.5 H673.36 V631.2 H680.63 V617.8 H687.9 V625.5 H695.17 V612.2 H702.44 V627.8 H709.71 V636.2 H716.98 V615.5 H724.25 V625.5 H731.52 V636.2 H746.06 V612.2 H753.33 V627.8 H760.6 V625.5 H775.14 V644.5 Z"/>
<!-- horizontal scrollbar -->
<rect x="239" y="656.5" width="552" height="12" fill="#ebe9e4"/>
<rect x="239.5" y="657" width="11.5" height="11" fill="#d4d0c8" stroke="#808080" stroke-width="0.8"/>
<path d="M247 659.5v6l-4-3z" fill="#000"/>
<rect x="251.5" y="657" width="480" height="11" fill="#d4d0c8" stroke="#808080" stroke-width="0.8"/>
<path d="M252.3 667.2v-9.4h478.4" stroke="#fff" stroke-width="0.8" fill="none"/>
<rect x="779.5" y="657" width="11.5" height="11" fill="#d4d0c8" stroke="#808080" stroke-width="0.8"/>
<path d="M783.5 659.5v6l4-3z" fill="#000"/>
<text x="233" y="680.5" font-family="Liberation Sans,sans-serif" font-size="8.5" fill="#222" textLength="193" lengthAdjust="spacingAndGlyphs">Sequence 8 ID: TAF6_DROME  Residue: SER (22)</text>
<rect x="231.5" y="688.5" width="559" height="14" fill="#d4d0c8" stroke="#808080" stroke-width="1"/>
<path d="M232 702.5h558.5V689" stroke="#fff" stroke-width="0.8" fill="none"/>
<text x="234" y="698.5" font-family="Liberation Sans,sans-serif" font-size="8.5" fill="#222" textLength="81" lengthAdjust="spacingAndGlyphs">Java Applet Window</text>

<!-- footer -->
<text x="52" y="751" font-family="Liberation Sans,sans-serif" font-size="20" fill="#000" textLength="335" lengthAdjust="spacingAndGlyphs">(*) http://pfam.sanger.ac.uk//family/TAF</text>
</svg>

<div class="aln">
<div><i class=T>T</i><i class=I>I</i><i class=W>W</i><i class=S>S</i><i class=P>P</i><i class=Q>Q</i><i class=D>D</i><i class=T>T</i><i class=V>V</i><i class=K>K</i><i class=D>D</i><i class=V>V</i><i class=A>A</i><i class=E>E</i><i class=S>S</i><i class=L>L</i><i class=G>G</i><i class=L>L</i><i class=E>E</i><i class=N>N</i><i class=I>I</i><i class=N>N</i><i class=G>G</i><i class=D>D</i><i class=V>V</i><i class=L>L</i><i class=K>K</i><i class=A>A</i><i class=L>L</i><i class=A>A</i><i class=M>M</i><i class=D>D</i><i class=V>V</i><i class=E>E</i><i class=Y>Y</i><i class=R>R</i><i class=I>I</i><i class=L>L</i><i class=E>E</i><i class=I>I</i><i class=I>I</i><i class=E>E</i><i class=D>D</i><i class=A>A</i><i class=V>V</i><i class=K>K</i><i class=F>F</i><i class=K>K</i><i class=R>R</i><i class=H>H</i><i class=S>S</i><i class=K>K</i><i class=R>R</i><i class=D>D</i><i class=V>V</i><i class=L>L</i><i class=T>T</i><i class=T>T</i><i class=D>D</i><i class=D>D</i><i class=V>V</i><i class=S>S</i></div>
<div><i class=L>L</i><i class=T>T</i><i class=V>V</i><i class=W>W</i><i class=N>N</i><i class=I>I</i><i class=E>E</i><i class=S>S</i><i class=I>I</i><i class=K>K</i><i class=D>D</i><i class=V>V</i><i class=A>A</i><i class=E>E</i><i class=M>M</i><i class=L>L</i><i class=G>G</i><i class=I>I</i><i class=G>G</i><i class=N>N</i><i class=L>L</i><i class=A>A</i><i class=D>D</i><i class=E>E</i><i class=P>P</i><i class=A>A</i><i class=A>A</i><i class=A>A</i><i class=I>I</i><i class=A>A</i><i class=M>M</i><i class=D>D</i><i class=L>L</i><i class=E>E</i><i class=Y>Y</i><i class=R>R</i><i class=I>I</i><i class=H>H</i><i class=Q>Q</i><i class=V>V</i><i class=V>V</i><i class=D>D</i><i class=E>E</i><i class=A>A</i><i class=T>T</i><i class=K>K</i><i class=F>F</i><i class=M>M</i><i class=V>V</i><i class=H>H</i><i class=S>S</i><i class=K>K</i><i class=R>R</i><i class=T>T</i><i class=V>V</i><i class=L>L</i><i class=T>T</i><i class=S>S</i><i class=A>A</i><i class=D>D</i><i class=I>I</i><i class=S>S</i></div>
<div><i class=g>.</i><i class=M>M</i><i class=L>L</i><i class=F>F</i><i class=S>S</i><i class=K>K</i><i class=E>E</i><i class=T>T</i><i class=L>L</i><i class=K>K</i><i class=S>S</i><i class=F>F</i><i class=A>A</i><i class=Q>Q</i><i class=S>S</i><i class=K>K</i><i class=G>G</i><i class=I>I</i><i class=S>S</i><i class=N>N</i><i class=I>I</i><i class=D>D</i><i class=D>D</i><i class=D>D</i><i class=A>A</i><i class=L>L</i><i class=K>K</i><i class=V>V</i><i class=L>L</i><i class=S>S</i><i class=Q>Q</i><i class=D>D</i><i class=L>L</i><i class=E>E</i><i class=Y>Y</i><i class=R>R</i><i class=I>I</i><i class=K>K</i><i class=E>E</i><i class=V>V</i><i class=C>C</i><i class=Q>Q</i><i class=E>E</i><i class=G>G</i><i class=S>S</i><i class=K>K</i><i class=F>F</i><i class=M>M</i><i class=V>V</i><i class=G>G</i><i class=S>S</i><i class=K>K</i><i class=R>R</i><i class=T>T</i><i class=K>K</i><i class=L>L</i><i class=S>S</i><i class=I>I</i><i class=D>D</i><i class=D>D</i><i class=I>I</i><i class=N>N</i></div>
<div><i class=T>T</i><i class=P>P</i><i class=I>I</i><i class=F>F</i><i class=T>T</i><i class=Q>Q</i><i class=T>T</i><i class=A>A</i><i class=g>.</i><i class=g>.</i><i class=g>.</i><i class=g>.</i><i class=A>A</i><i class=E>E</i><i class=M>M</i><i class=L>L</i><i class=G>G</i><i class=I>I</i><i class=T>T</i><i class=S>S</i><i class=L>L</i><i class=N>N</i><i class=T>T</i><i class=E>E</i><i class=A>A</i><i class=A>A</i><i class=E>E</i><i class=L>L</i><i class=L>L</i><i class=E>E</i><i class=F>F</i><i class=L>L</i><i class=S>S</i><i class=S>S</i><i class=E>E</i><i class=K>K</i><i class=L>L</i><i class=K>K</i><i class=E>E</i><i class=I>I</i><i class=V>V</i><i class=S>S</i><i class=L>L</i><i class=S>S</i><i class=A>A</i><i class=K>K</i><i class=W>W</i><i class=T>T</i><i class=D>D</i><i class=K>K</i><i class=S>S</i><i class=A>A</i><i class=K>K</i><i class=R>R</i><i class=S>S</i><i class=M>M</i><i class=A>A</i><i class=V>V</i><i class=A>A</i><i class=D>D</i><i class=V>V</i><i class=E>E</i></div>
<div><i class=N>N</i><i class=T>T</i><i class=V>V</i><i class=L>L</i><i class=P>P</i><i class=S>S</i><i class=E>E</i><i class=S>S</i><i class=M>M</i><i class=K>K</i><i class=V>V</i><i class=V>V</i><i class=A>A</i><i class=E>E</i><i class=S>S</i><i class=M>M</i><i class=G>G</i><i class=I>I</i><i class=A>A</i><i class=Q>Q</i><i class=I>I</i><i class=Q>Q</i><i class=E>E</i><i class=E>E</i><i class=T>T</i><i class=C>C</i><i class=Q>Q</i><i class=L>L</i><i class=L>L</i><i class=T>T</i><i class=D>D</i><i class=E>E</i><i class=V>V</i><i class=S>S</i><i class=Y>Y</i><i class=R>R</i><i class=I>I</i><i class=K>K</i><i class=E>E</i><i class=I>I</i><i class=A>A</i><i class=Q>Q</i><i class=D>D</i><i class=A>A</i><i class=L>L</i><i class=K>K</i><i class=F>F</i><i class=M>M</i><i class=H>H</i><i class=M>M</i><i class=G>G</i><i class=K>K</i><i class=R>R</i><i class=Q>Q</i><i class=K>K</i><i class=L>L</i><i class=T>T</i><i class=T>T</i><i class=S>S</i><i class=D>D</i><i class=I>I</i><i class=D>D</i></div>
<div><i class=N>N</i><i class=T>T</i><i class=L>L</i><i class=L>L</i><i class=P>P</i><i class=S>S</i><i class=E>E</i><i class=S>S</i><i class=M>M</i><i class=K>K</i><i class=V>V</i><i class=I>I</i><i class=S>S</i><i class=E>E</i><i class=S>S</i><i class=V>V</i><i class=G>G</i><i class=I>I</i><i class=S>S</i><i class=Q>Q</i><i class=M>M</i><i class=S>S</i><i class=E>E</i><i class=E>E</i><i class=T>T</i><i class=C>C</i><i class=Q>Q</i><i class=L>L</i><i class=L>L</i><i class=A>A</i><i class=Q>Q</i><i class=E>E</i><i class=V>V</i><i class=S>S</i><i class=F>F</i><i class=R>R</i><i class=I>I</i><i class=K>K</i><i class=E>E</i><i class=V>V</i><i class=T>T</i><i class=Q>Q</i><i class=D>D</i><i class=A>A</i><i class=L>L</i><i class=K>K</i><i class=F>F</i><i class=M>M</i><i class=H>H</i><i class=V>V</i><i class=G>G</i><i class=K>K</i><i class=R>R</i><i class=Q>Q</i><i class=K>K</i><i class=L>L</i><i class=T>T</i><i class=P>P</i><i class=S>S</i><i class=D>D</i><i class=I>I</i><i class=D>D</i></div>
<div><i class=N>N</i><i class=T>T</i><i class=L>L</i><i class=F>F</i><i class=P>P</i><i class=T>T</i><i class=E>E</i><i class=S>S</i><i class=M>M</i><i class=K>K</i><i class=V>V</i><i class=I>I</i><i class=A>A</i><i class=E>E</i><i class=S>S</i><i class=I>I</i><i class=G>G</i><i class=I>I</i><i class=S>S</i><i class=Q>Q</i><i class=V>V</i><i class=P>P</i><i class=E>E</i><i class=E>E</i><i class=T>T</i><i class=C>C</i><i class=Q>Q</i><i class=L>L</i><i class=L>L</i><i class=T>T</i><i class=E>E</i><i class=E>E</i><i class=V>V</i><i class=S>S</i><i class=Y>Y</i><i class=R>R</i><i class=I>I</i><i class=K>K</i><i class=E>E</i><i class=I>I</i><i class=T>T</i><i class=Q>Q</i><i class=D>D</i><i class=A>A</i><i class=L>L</i><i class=K>K</i><i class=F>F</i><i class=M>M</i><i class=S>S</i><i class=V>V</i><i class=G>G</i><i class=K>K</i><i class=R>R</i><i class=Q>Q</i><i class=K>K</i><i class=L>L</i><i class=T>T</i><i class=T>T</i><i class=C>C</i><i class=D>D</i><i class=I>I</i><i class=D>D</i></div>
<div><i class=G>G</i><i class=S>S</i><i class=S>S</i><i class=I>I</i><i class=S>S</i><i class=A>A</i><i class=E>E</i><i class=S>S</i><i class=M>M</i><i class=K>K</i><i class=V>V</i><i class=I>I</i><i class=A>A</i><i class=E>E</i><i class=S>S</i><i class=I>I</i><i class=G>G</i><i class=V>V</i><i class=G>G</i><i class=S>S</i><i class=L>L</i><i class=S>S</i><i class=D>D</i><i class=D>D</i><i class=A>A</i><i class=A>A</i><i class=K>K</i><i class=E>E</i><i class=L>L</i><i class=A>A</i><i class=E>E</i><i class=D>D</i><i class=V>V</i><i class=S>S</i><i class=I>I</i><i class=K>K</i><i class=L>L</i><i class=K>K</i><i class=E>E</i><i class=I>I</i><i class=V>V</i><i class=Q>Q</i><i class=D>D</i><i class=A>A</i><i class=A>A</i><i class=K>K</i><i class=F>F</i><i class=M>M</i><i class=N>N</i><i class=H>H</i><i class=A>A</i><i class=K>K</i><i class=S>S</i><i class=Q>Q</i><i class=K>K</i><i class=L>L</i><i class=S>S</i><i class=V>V</i><i class=R>R</i><i class=D>D</i><i class=I>I</i><i class=D>D</i></div>
<div><i class=F>F</i><i class=V>V</i><i class=E>E</i><i class=I>I</i><i class=P>P</i><i class=K>K</i><i class=E>E</i><i class=S>S</i><i class=V>V</i><i class=A>A</i><i class=L>L</i><i class=M>M</i><i class=A>A</i><i class=E>E</i><i class=S>S</i><i class=T>T</i><i class=G>G</i><i class=L>L</i><i class=g>.</i><i class=E>E</i><i class=L>L</i><i class=S>S</i><i class=D>D</i><i class=E>E</i><i class=V>V</i><i class=A>A</i><i class=A>A</i><i class=L>L</i><i class=L>L</i><i class=A>A</i><i class=E>E</i><i class=D>D</i><i class=V>V</i><i class=C>C</i><i class=Y>Y</i><i class=R>R</i><i class=L>L</i><i class=K>K</i><i class=E>E</i><i class=A>A</i><i class=T>T</i><i class=Q>Q</i><i class=N>N</i><i class=S>S</i><i class=S>S</i><i class=Q>Q</i><i class=F>F</i><i class=M>M</i><i class=K>K</i><i class=H>H</i><i class=T>T</i><i class=K>K</i><i class=R>R</i><i class=K>K</i><i class=K>K</i><i class=L>L</i><i class=T>T</i><i class=V>V</i><i class=E>E</i><i class=D>D</i><i class=F>F</i><i class=N>N</i></div>
<div><i class=M>M</i><i class=S>S</i><i class=I>I</i><i class=V>V</i><i class=P>P</i><i class=K>K</i><i class=E>E</i><i class=T>T</i><i class=V>V</i><i class=E>E</i><i class=V>V</i><i class=I>I</i><i class=A>A</i><i class=D>D</i><i class=S>S</i><i class=I>I</i><i class=G>G</i><i class=I>I</i><i class=T>T</i><i class=N>N</i><i class=L>L</i><i class=L>L</i><i class=P>P</i><i class=E>E</i><i class=A>A</i><i class=A>A</i><i class=L>L</i><i class=M>M</i><i class=L>L</i><i class=A>A</i><i class=P>P</i><i class=D>D</i><i class=V>V</i><i class=E>E</i><i class=Y>Y</i><i class=R>R</i><i class=V>V</i><i class=K>K</i><i class=E>E</i><i class=I>I</i><i class=M>M</i><i class=Q>Q</i><i class=E>E</i><i class=A>A</i><i class=I>I</i><i class=K>K</i><i class=C>C</i><i class=M>M</i><i class=R>R</i><i class=H>H</i><i class=S>S</i><i class=K>K</i><i class=R>R</i><i class=T>T</i><i class=T>T</i><i class=L>L</i><i class=T>T</i><i class=A>A</i><i class=S>S</i><i class=D>D</i><i class=V>V</i><i class=D>D</i></div>
<div><i class=g>.</i><i class=g>.</i><i class=M>M</i><i class=V>V</i><i class=T>T</i><i class=H>H</i><i class=E>E</i><i class=S>S</i><i class=I>I</i><i class=E>E</i><i class=V>V</i><i class=I>I</i><i class=A>A</i><i class=Q>Q</i><i class=S>S</i><i class=I>I</i><i class=G>G</i><i class=L>L</i><i class=S>S</i><i class=T>T</i><i class=L>L</i><i class=S>S</i><i class=P>P</i><i class=D>D</i><i class=V>V</i><i class=S>S</i><i class=A>A</i><i class=A>A</i><i class=L>L</i><i class=A>A</i><i class=P>P</i><i class=D>D</i><i class=V>V</i><i class=E>E</i><i class=Y>Y</i><i class=R>R</i><i class=V>V</i><i class=R>R</i><i class=E>E</i><i class=V>V</i><i class=M>M</i><i class=Q>Q</i><i class=E>E</i><i class=A>A</i><i class=I>I</i><i class=K>K</i><i class=C>C</i><i class=M>M</i><i class=R>R</i><i class=H>H</i><i class=A>A</i><i class=K>K</i><i class=R>R</i><i class=T>T</i><i class=T>T</i><i class=L>L</i><i class=M>M</i><i class=A>A</i><i class=H>H</i><i class=D>D</i><i class=V>V</i><i class=D>D</i></div>
<div><i class=M>M</i><i class=S>S</i><i class=I>I</i><i class=V>V</i><i class=P>P</i><i class=K>K</i><i class=E>E</i><i class=T>T</i><i class=I>I</i><i class=E>E</i><i class=V>V</i><i class=I>I</i><i class=G>G</i><i class=Q>Q</i><i class=S>S</i><i class=V>V</i><i class=G>G</i><i class=I>I</i><i class=A>A</i><i class=N>N</i><i class=L>L</i><i class=P>P</i><i class=A>A</i><i class=D>D</i><i class=V>V</i><i class=S>S</i><i class=A>A</i><i class=A>A</i><i class=L>L</i><i class=A>A</i><i class=P>P</i><i class=D>D</i><i class=V>V</i><i class=E>E</i><i class=Y>Y</i><i class=R>R</i><i class=L>L</i><i class=K>K</i><i class=E>E</i><i class=I>I</i><i class=M>M</i><i class=Q>Q</i><i class=E>E</i><i class=A>A</i><i class=I>I</i><i class=K>K</i><i class=C>C</i><i class=M>M</i><i class=R>R</i><i class=H>H</i><i class=A>A</i><i class=K>K</i><i class=R>R</i><i class=T>T</i><i class=V>V</i><i class=L>L</i><i class=T>T</i><i class=A>A</i><i class=D>D</i><i class=D>D</i><i class=V>V</i><i class=D>D</i></div>
</div>

<div class="rowx" style="top:558.5px"><i class=q0>0</i><i class=q0>0</i><i class=q2>2</i><i class=q4>4</i><i class=q6>6</i><i class=q3>3</i><i class=q7>7</i><i class=q7>7</i><i class=q1>1</i><i class=q2>2</i><i class=q0>0</i><i class=q1>1</i><i class=q8>8</i><i class=q8>8</i><i class=q6>6</i><i class=q4>4</i><i class=q11>*</i><i class=q9>9</i><i class=q0>0</i><i class=q6>6</i><i class=q8>8</i><i class=q2>2</i><i class=q3>3</i><i class=q9>9</i><i class=q5>5</i><i class=q5>5</i><i class=q2>2</i><i class=q3>3</i><i class=q10>+</i><i class=q4>4</i><i class=q3>3</i><i class=q4>4</i><i class=q5>5</i><i class=q3>3</i><i class=q4>4</i><i class=q9>9</i><i class=q9>9</i><i class=q4>4</i><i class=q7>7</i><i class=q7>7</i><i class=q5>5</i><i class=q7>7</i><i class=q4>4</i><i class=q8>8</i><i class=q5>5</i><i class=q7>7</i><i class=q7>7</i><i class=q5>5</i><i class=q2>2</i><i class=q3>3</i><i class=q7>7</i><i class=q4>4</i><i class=q11>*</i><i class=q6>6</i><i class=q4>4</i><i class=q9>9</i><i class=q6>6</i><i class=q4>4</i><i class=q2>2</i><i class=q11>*</i><i class=q7>7</i><i class=q6>6</i></div>

<div class="rowx" style="top:646px;color:#000"><i>N</i><i>T</i><i>+</i><i>+</i><i>P</i><i>K</i><i>E</i><i>S</i><i>M</i><i>K</i><i>V</i><i>I</i><i>A</i><i>E</i><i>S</i><i>I</i><i>G</i><i>I</i><i>S</i><i>N</i><i>L</i><i>S</i><i>D</i><i>E</i><i>+</i><i>A</i><i>A</i><i>L</i><i>L</i><i>A</i><i>+</i><i>D</i><i>V</i><i>E</i><i>Y</i><i>R</i><i>I</i><i>K</i><i>E</i><i>I</i><i>+</i><i>Q</i><i>E</i><i>A</i><i>+</i><i>K</i><i>F</i><i>M</i><i>R</i><i>H</i><i>S</i><i>K</i><i>R</i><i>T</i><i>K</i><i>L</i><i>T</i><i>+</i><i>+</i><i>D</i><i>I</i><i>D</i></div>
</body></html>
